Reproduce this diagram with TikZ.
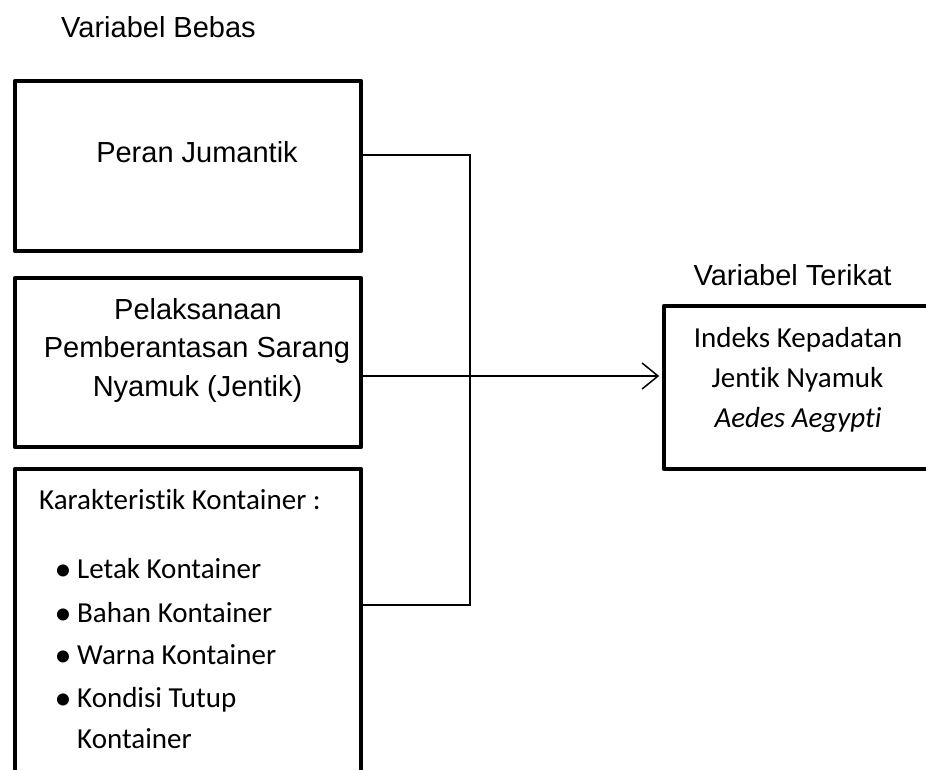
\documentclass[tikz,border=0pt]{standalone}
\usepackage{fontspec}
\setmainfont{Liberation Sans}
\newfontfamily\calibri[Ligatures=NoCommon]{Carlito}
\usetikzlibrary{arrows.meta}
\tikzset{
  box/.style={draw, line width=4.5pt, line join=round, inner sep=0pt, minimum width=346pt},
  conn/.style={line width=1.5pt},
  arial/.style={font=\fontsize{29}{35}\selectfont, inner sep=0pt, anchor=base},
  cal/.style={font=\calibri\fontsize{29}{35}\selectfont, inner sep=0pt, anchor=base},
}
\begin{document}
\begin{tikzpicture}[x=1pt,y=-1pt]
    \useasboundingbox (0,0) rectangle (926,769);
    \clip (0,0) rectangle (926,769);

    % variabel bebas
    \node[arial] (bebas) at (158.5,37) {Variabel Bebas};

    \node[box, minimum height=170pt] (peran) at (188,166) {};
    \node[arial] (peranT) at (197,162) {Peran Jumantik};

    \node[box, minimum height=169pt] (pel) at (188,362.5) {};
    \node[arial] (pelA) at (198,319) {Pelaksanaan};
    \node[arial] (pelB) at (197,357) {Pemberantasan Sarang};
    \node[arial] (pelC) at (197.5,396) {Nyamuk (Jentik)};

    \node[box, minimum height=331pt] (kont) at (188,634.5) {};
    \node[cal, anchor=base west] (kontT) at (39,509) {Karakteristik Kontainer :};
    \foreach \y/\t [count=\i] in {578/Letak Kontainer, 622/Bahan Kontainer, 664/Warna Kontainer, 707/Kondisi Tutup}{
        \node[cal, anchor=base west] (item\i) at (77,\y) {\t};
        \node[cal, font=\calibri\fontsize{34}{34}\selectfont] (dot\i) at (63,\y+2) {•};
    }
    \node[cal, anchor=base west] (item5) at (77,748) {Kontainer};

    % variabel terikat
    \node[arial] (terikatT) at (792.5,285) {Variabel Terikat};
    \node[box, minimum width=296pt, minimum height=163pt] (terikat) at (812,387.5) {};
    \node[cal] (terA) at (798,347) {Indeks Kepadatan};
    \node[cal] (terB) at (797.5,387) {Jentik Nyamuk};
    \node[cal, font=\calibri\itshape\fontsize{29}{35}\selectfont] (terC) at (798,427) {Aedes Aegypti};

    % garis penghubung
    \coordinate (jt) at (470,155);
    \coordinate (jm) at (470,376);
    \coordinate (jb) at (470,605);
    \draw[conn] (peran.east |- jt) -- (jt) -- (jb) -- (kont.east |- jb);
    \draw[conn, -{Straight Barb[length=16pt,width=26pt]}, shorten >=2.5pt] (pel.east |- jm) -- (terikat.west |- jm);

\end{tikzpicture}
\end{document}
